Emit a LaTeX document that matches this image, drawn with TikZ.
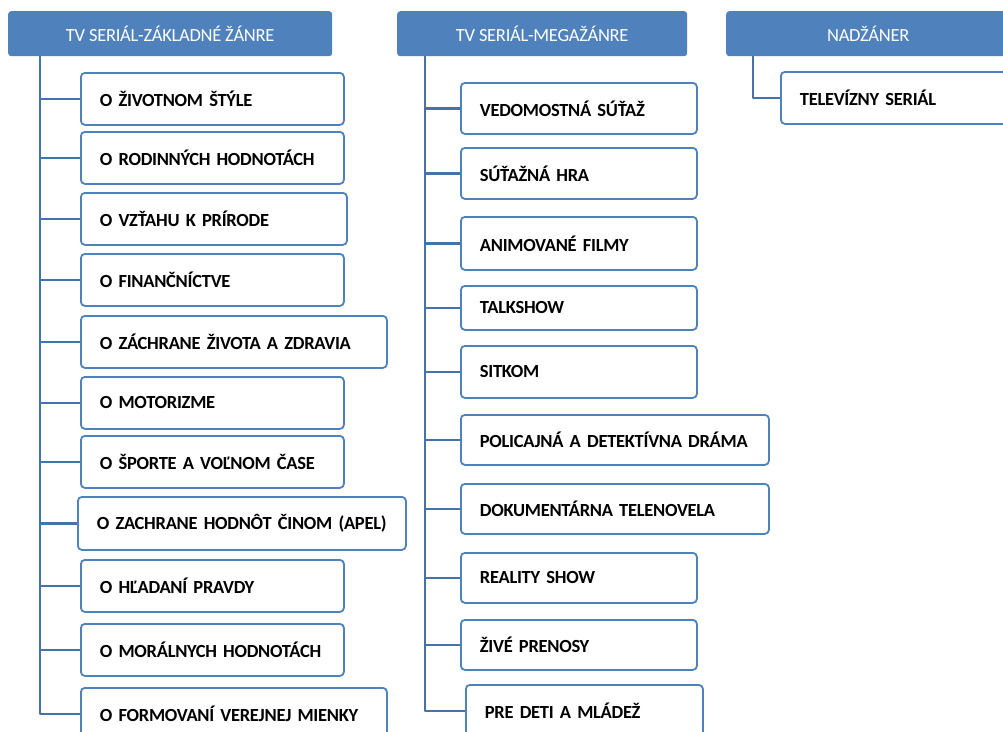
\documentclass[tikz,border=0pt]{standalone}
\usepackage{fontspec}
\setmainfont{Carlito}[LetterSpace=-1.5]
\usetikzlibrary{positioning}
\definecolor{hdblue}{RGB}{79,129,189}
\definecolor{lnblue}{RGB}{68,114,170}
\tikzset{
	head/.style={fill=hdblue, rounded corners=3pt, anchor=north west, minimum height=45pt, inner sep=0pt, text=white, font=\fontsize{18.5}{22}\selectfont},
	leaf/.style={draw=hdblue, line width=1.8pt, rounded corners=4pt, fill=white, anchor=north west, inner xsep=19pt, inner ysep=0pt, align=left, font=\bfseries\fontsize{18.5}{22}\selectfont},
	link/.style={draw=lnblue, line width=2.4pt}
}
\begin{document}
\begin{tikzpicture}[x=1pt, y=-1pt, line join=round]
			\useasboundingbox (0,0) rectangle (1003,731);
			\clip (0,0) rectangle (1003,731);
			\node[head, minimum width=324pt] (hdA) at (8,11) {TV SERIÁL-ZÁKLADNÉ ŽÁNRE};
			\node[head, minimum width=290pt] (hdB) at (397,11) {TV SERIÁL-MEGAŽÁNRE};
			\node[head, minimum width=284pt] (hdC) at (726,11) {NADŽÁNER};
			\foreach \n/\x/\y/\w/\h/\t in {a1/80/72/225/52/{O ŽIVOTNOM ŠTÝLE}, a2/80/131/225/52/{O RODINNÝCH HODNOTÁCH}, a3/80/192/228/52/{O VZŤAHU K PRÍRODE}, a4/80/253/225/52/{O FINANČNÍCTVE}, a5/80/315/268/52/{O ZÁCHRANE ŽIVOTA A ZDRAVIA}, a6/80/376/225/52/{O MOTORIZME}, a7/80/435/225/52/{O ŠPORTE A VOĽNOM ČASE}, a8/77/496/290/53/{O ZACHRANE HODNÔT ČINOM (APEL)}, a9/80/559/225/52/{O HĽADANÍ PRAVDY}, a10/80/623/225/52/{O MORÁLNYCH HODNOTÁCH}, a11/80/687/268/52/{O FORMOVANÍ VEREJNEJ MIENKY}}
				\node[leaf, text width=\w pt, minimum height=\h pt] (\n) at (\x,\y) {\t};
			\foreach \n/\x/\y/\w/\h/\t in {b1/460/82/198/51/{VEDOMOSTNÁ SÚŤAŽ}, b2/460/147/198/51/{SÚŤAŽNÁ HRA}, b3/460/216/198/53/{ANIMOVANÉ FILMY}, b4/460/285/198/44/{TALKSHOW}, b5/460/345/198/52/{SITKOM}, b6/460/414/270/50/{POLICAJNÁ A DETEKTÍVNA DRÁMA}, b7/460/483/270/50/{DOKUMENTÁRNA TELENOVELA}, b8/460/552/198/50/{REALITY SHOW}, b9/460/619/198/50/{ŽIVÉ PRENOSY}, b10/465/684/199/52/{PRE DETI A MLÁDEŽ}}
				\node[leaf, text width=\w pt, minimum height=\h pt] (\n) at (\x,\y) {\t};
			\node[leaf, text width=240pt, minimum height=52pt] (c1) at (780,71) {TELEVÍZNY SERIÁL};
			\foreach \n in {a1,a2,a3,a4,a5,a6,a7,a8,a9,a10,a11}
				\draw[link] ([xshift=32pt]hdA.south west) |- (\n.west);
			\foreach \n in {b1,b2,b3,b4,b5,b6,b7,b8,b9,b10}
				\draw[link] ([xshift=28pt]hdB.south west) |- (\n.west);
			\draw[link] ([xshift=27pt]hdC.south west) |- (c1.west);
		\end{tikzpicture}
\end{document}
